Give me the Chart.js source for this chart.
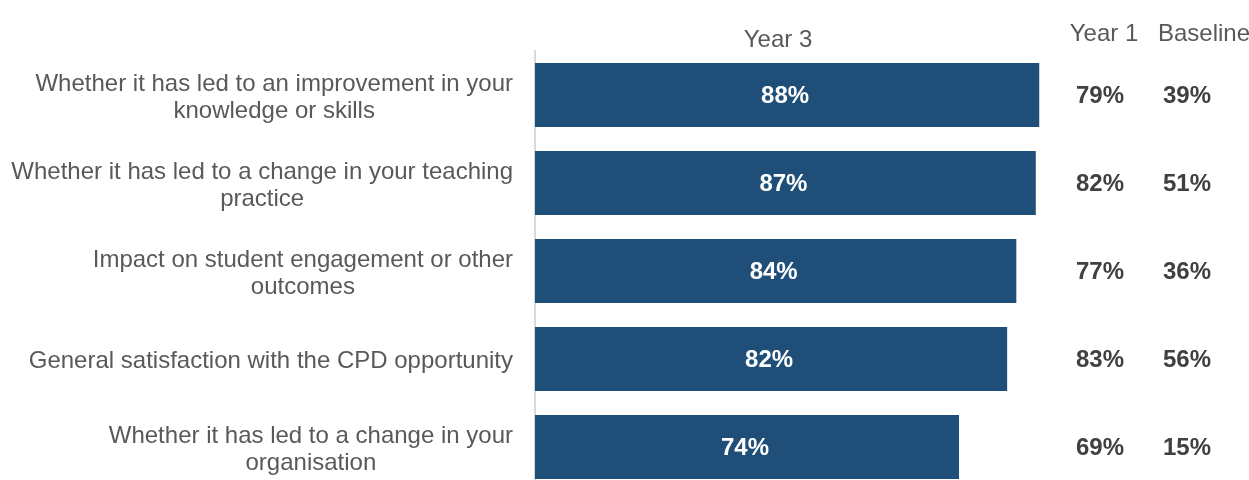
<!DOCTYPE html>
<html>
<head>
<meta charset="utf-8">
<script src="https://cdn.jsdelivr.net/npm/chart.js@4"></script>
<style>
  html, body { margin: 0; padding: 0; background: #fff; overflow: hidden; }
  #wrap { width: 1249px; height: 491px; }
</style>
</head>
<body>
<div id="wrap"><canvas id="cpd" width="1249" height="491"></canvas></div>
<script>
// data (bar lengths estimated, labels show rounded values)
var categories = [
  ['Whether it has led to an improvement in your', 'knowledge or skills'],
  ['Whether it has led to a change in your teaching', 'practice'],
  ['Impact on student engagement or other', 'outcomes'],
  ['General satisfaction with the CPD opportunity'],
  ['Whether it has led to a change in your', 'organisation']
]
var year3 = [88.0, 87.4, 84.0, 82.4, 74.0]
var year1 = [79, 82, 77, 83, 69]
var baseline = [39, 51, 36, 56, 15]
var columnTitles = ['Year 3', 'Year 1', 'Baseline']

var FONT = '"Liberation Sans", Arial, sans-serif'

// draws category labels (right-aligned block, centred lines), values and column headers
var textPlugin = {
  id: 'cpdText',
  afterDatasetsDraw: function(chart) {
    var ctx = chart.ctx
    var y = chart.scales.y
    var meta = chart.getDatasetMeta(0)
    ctx.save()

    // category labels
    ctx.font = '24px ' + FONT
    ctx.fillStyle = '#595959'
    ctx.textAlign = 'center'
    ctx.textBaseline = 'alphabetic'
    for (var i = 0; i < categories.length; i++) {
      var lines = categories[i]
      var w = 0
      lines.forEach(function(l) { w = Math.max(w, ctx.measureText(l).width) })
      var cx = 513 - w / 2
      var cy = y.getPixelForTick(i)
      var first = cy + 9 - (lines.length - 1) * 27 / 2
      lines.forEach(function(l, j) { ctx.fillText(l, cx, first + j * 27) })
    }

    // values
    ctx.font = 'bold 24px ' + FONT
    ctx.textBaseline = 'middle'
    for (var k = 0; k < year3.length; k++) {
      var bar = meta.data[k]
      var by = bar.y + 1
      ctx.fillStyle = '#ffffff'
      ctx.fillText(Math.round(year3[k]) + '%', (bar.base + bar.x) / 2 - 2, by)
      ctx.fillStyle = '#404040'
      ctx.fillText(year1[k] + '%', 1100, by)
      ctx.fillText(baseline[k] + '%', 1187, by)
    }

    // column headers
    ctx.font = '24px ' + FONT
    ctx.fillStyle = '#595959'
    ctx.textBaseline = 'alphabetic'
    ctx.fillText(columnTitles[0], 778, 47)
    ctx.fillText(columnTitles[1], 1104, 41)
    ctx.fillText(columnTitles[2], 1204, 41)
    ctx.restore()
  }
}

var ctx = document.getElementById('cpd').getContext('2d')
var chart = new Chart(ctx, {
  type: 'bar',
  data: {
    labels: categories,
    datasets: [{
      label: 'Year 3',
      data: year3,
      backgroundColor: '#1f4e79',
      barPercentage: 0.727,
      categoryPercentage: 1
    }]
  },
  options: {
    indexAxis: 'y',
    responsive: false,
    animation: false,
    layout: { padding: { top: 51, right: 141, bottom: 0, left: 0 } },
    scales: {
      x: { display: false, min: 0, max: 100 },
      y: {
        afterFit: function(scale) { scale.width = 535 },
        ticks: { display: false },
        grid: { display: false },
        border: { display: true, color: '#d9d9d9', width: 2 }
      }
    },
    plugins: {
      legend: { display: false },
      tooltip: { enabled: false }
    }
  },
  plugins: [textPlugin]
})
</script>
</body>
</html>
